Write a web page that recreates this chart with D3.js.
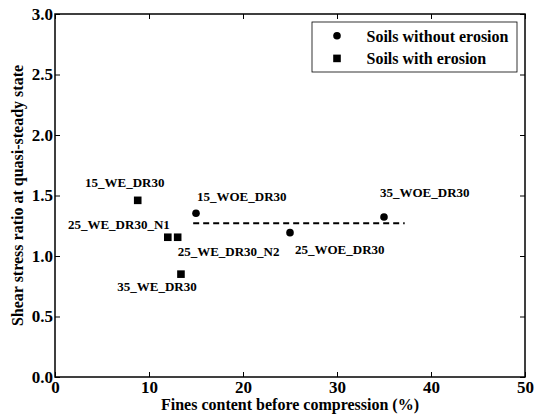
<!DOCTYPE html>
<html>
<head>
<meta charset="utf-8">
<script src="https://cdn.jsdelivr.net/npm/d3@7"></script>
<style>
  html, body { margin: 0; padding: 0; background: #fff; }
  svg { display: block; }
  text { font-family: "Liberation Serif", "Times New Roman", "DejaVu Serif", serif; fill: #000; }
</style>
</head>
<body>
<svg id="chart" width="538" height="419"></svg>
<script>
// Specimen names, fines content (%) and shear stress ratio at quasi-steady state
const specimens = ["15_WE_DR30", "25_WE_DR30_N1", "25_WE_DR30_N2", "35_WE_DR30",
                   "15_WOE_DR30", "25_WOE_DR30", "35_WOE_DR30"];
const finesContent = [8.8, 12.0, 13.05, 13.4, 15.0, 25.0, 35.0];
const stressRatio  = [1.46, 1.155, 1.155, 0.85, 1.353, 1.193, 1.322];
const soilGroup    = ["with", "with", "with", "with", "without", "without", "without"];

// Average trend for soils without erosion
const trendX = [14.7, 37.2];
const trendY = [1.27, 1.27];

const xTicks = [0, 10, 20, 30, 40, 50];
const yTicks = [0.0, 0.5, 1.0, 1.5, 2.0, 2.5, 3.0];

const legendLabels = ["Soils without erosion", "Soils with erosion"];
const legendGroups = ["without", "with"];

// Label placement around each marker (pixels): anchor, dx, dy
const labelPlacement = {
  "15_WE_DR30":    ["middle", -13, -13],
  "25_WE_DR30_N1": ["end",      2,  -8],
  "25_WE_DR30_N2": ["start",    0,  19],
  "35_WE_DR30":    ["middle", -24,  17],
  "15_WOE_DR30":   ["start",    1, -12],
  "25_WOE_DR30":   ["start",    5,  21],
  "35_WOE_DR30":   ["start",   -4, -20]
};

const serif = "'Liberation Serif', 'Times New Roman', 'DejaVu Serif', serif";

const svg = d3.select("#chart");
const plot = { left: 55, right: 525, top: 14, bottom: 377 };

const x = d3.scaleLinear().domain([0, 50]).range([plot.left, plot.right]);
const y = d3.scaleLinear().domain([0, 3]).range([plot.bottom, plot.top]);

function setFont(sel, size, weight) {
  sel.attr("font-family", serif).attr("font-size", size).attr("font-weight", weight)
     .style("font-family", serif).style("font-size", size + "px").style("font-weight", weight);
}

// Axes with inward ticks on all four sides
function styleAxis(g, showLabels) {
  g.attr("font-family", null).attr("font-size", null);
  g.select(".domain").remove();
  g.selectAll(".tick line").attr("stroke", "#000").attr("stroke-width", 1);
  g.selectAll(".tick text").call(setFont, 17, "bold");
  if (!showLabels) g.selectAll(".tick text").remove();
}

svg.append("g")
  .attr("transform", `translate(0,${plot.bottom})`)
  .call(d3.axisBottom(x).tickValues(xTicks).tickFormat(d3.format("d")).tickSizeInner(-5).tickSizeOuter(0).tickPadding(4))
  .call(g => styleAxis(g, true));

svg.append("g")
  .attr("transform", `translate(0,${plot.top})`)
  .call(d3.axisTop(x).tickValues(xTicks).tickSizeInner(-5).tickSizeOuter(0))
  .call(g => styleAxis(g, false));

svg.append("g")
  .attr("transform", `translate(${plot.left},0)`)
  .call(d3.axisLeft(y).tickValues(yTicks).tickFormat(d3.format(".1f")).tickSizeInner(-5).tickSizeOuter(0))
  .call(g => styleAxis(g, true))
  .call(g => g.selectAll(".tick text").attr("x", -2));

svg.append("g")
  .attr("transform", `translate(${plot.right},0)`)
  .call(d3.axisRight(y).tickValues(yTicks).tickSizeInner(-5).tickSizeOuter(0))
  .call(g => styleAxis(g, false));

// Plot frame
svg.append("rect")
  .attr("x", plot.left).attr("y", plot.top)
  .attr("width", plot.right - plot.left).attr("height", plot.bottom - plot.top)
  .attr("fill", "none").attr("stroke", "#000").attr("stroke-width", 1.5);

// Trend line
svg.append("line")
  .attr("x1", x(trendX[0])).attr("x2", x(trendX[1]))
  .attr("y1", y(trendY[0])).attr("y2", y(trendY[1]))
  .attr("stroke", "#000").attr("stroke-width", 2)
  .attr("stroke-dasharray", "6,4");

// Markers
const points = specimens.map((name, i) => ({
  name, fc: finesContent[i], r: stressRatio[i], group: soilGroup[i]
}));

function drawMarker(sel, group, cx, cy) {
  if (group === "without") {
    sel.append("circle").attr("cx", cx).attr("cy", cy).attr("r", 3.8).attr("fill", "#000");
  } else {
    sel.append("rect").attr("x", cx - 3.8).attr("y", cy - 3.8)
      .attr("width", 7.6).attr("height", 7.6).attr("fill", "#000");
  }
}

const markers = svg.append("g");
points.forEach(p => drawMarker(markers, p.group, x(p.fc), y(p.r)));

// Specimen labels
svg.append("g").selectAll("text")
  .data(points)
  .join("text")
  .attr("x", d => x(d.fc) + labelPlacement[d.name][1])
  .attr("y", d => y(d.r) + labelPlacement[d.name][2])
  .attr("text-anchor", d => labelPlacement[d.name][0])
  .call(setFont, 13, "bold")
  .text(d => d.name);

// Legend
const legend = svg.append("g");
legend.append("rect")
  .attr("x", 312).attr("y", 22).attr("width", 205).attr("height", 50)
  .attr("fill", "#fff").attr("stroke", "#000").attr("stroke-width", 0.8);
legendLabels.forEach((label, i) => {
  const ly = 35.7 + i * 22.7;
  drawMarker(legend, legendGroups[i], 337, ly);
  legend.append("text")
    .attr("x", 366.5).attr("y", ly + 6)
    .call(setFont, 16, "bold")
    .text(label);
});

// Axis titles
svg.append("text")
  .attr("x", (plot.left + plot.right) / 2).attr("y", 410)
  .attr("text-anchor", "middle")
  .call(setFont, 16, "bold")
  .text("Fines content before compression (%)");

svg.append("text")
  .attr("transform", `translate(23,${(plot.top + plot.bottom) / 2}) rotate(-90)`)
  .attr("text-anchor", "middle")
  .call(setFont, 16, "bold")
  .text("Shear stress ratio at quasi-steady state");
</script>
</body>
</html>
